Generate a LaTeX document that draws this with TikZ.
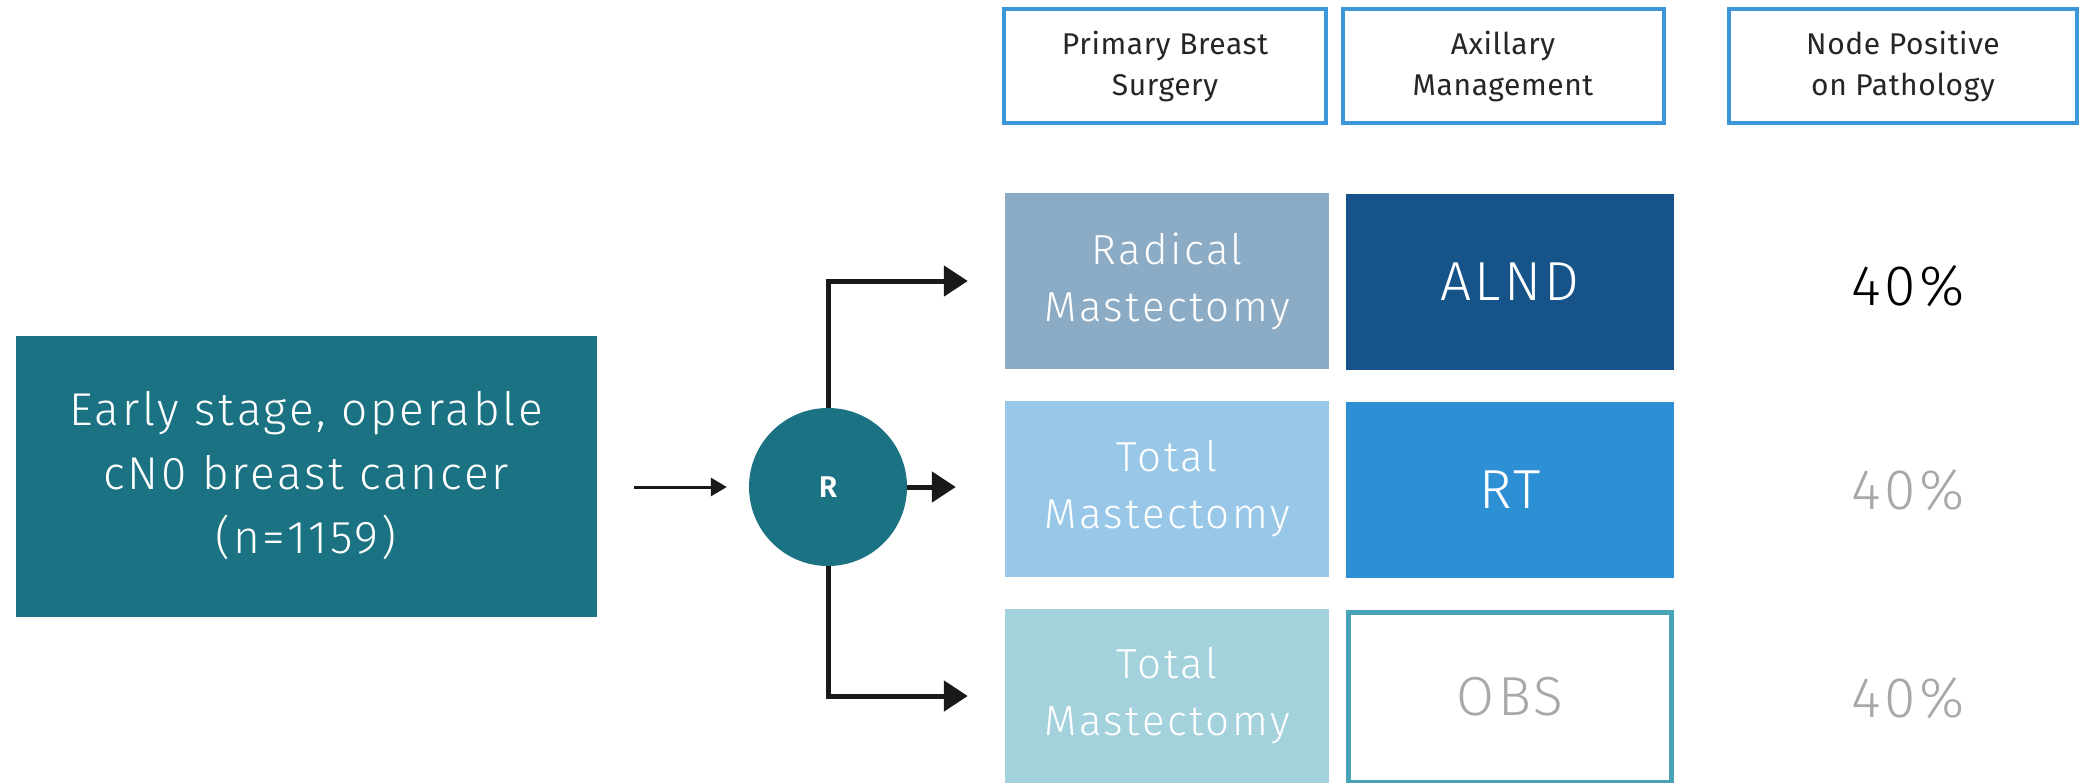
\documentclass[tikz,border=0pt]{standalone}
\usepackage{fontspec}
\setmainfont{Fira Sans}[UprightFont=* Light, BoldFont=* SemiBold, LetterSpace=6]
\newfontfamily\headfont{Fira Sans}[LetterSpace=2]
\usetikzlibrary{arrows.meta,positioning}

\definecolor{cohort}{HTML}{1B7282}
\definecolor{headblue}{HTML}{3B97DA}
\definecolor{radical}{HTML}{8CABC4}
\definecolor{alnd}{HTML}{155389}
\definecolor{totala}{HTML}{98C7E8}
\definecolor{rtblue}{HTML}{2E90D4}
\definecolor{totalb}{HTML}{A3D1DC}
\definecolor{obsline}{HTML}{48A3B7}
\definecolor{faded}{HTML}{A8A8A8}

\begin{document}
\begin{tikzpicture}[x=1pt,y=-1pt,
        every node/.style={align=center,inner sep=0pt},
        headbox/.style={draw=headblue,line width=4pt,fill=white,minimum height=114pt,
            font=\headfont\fontsize{30}{41}\selectfont,text=black!85},
        armbox/.style={minimum width=324pt,minimum height=176pt,text=white,
            font=\fontsize{42}{57}\selectfont},
        treatbox/.style={minimum width=328pt,minimum height=176pt,text=white,
            font=\fontsize{55}{60}\selectfont},
        pct/.style={font=\fontsize{57}{60}\selectfont},
        branch/.style={draw=black!90,line width=5pt,-{Triangle[length=24pt,width=30pt]}}]

    \useasboundingbox (0,0) rectangle (2088,782);

    % cohort and randomisation
    \node[fill=cohort,text=white,minimum width=581pt,minimum height=281pt,
        font=\fontsize{46}{64}\selectfont] (cohort) at (306,476)
        {Early stage, operable\\cN0 breast cancer\\(n=1159)};
    \node[circle,fill=cohort,minimum size=158pt,text=white,
        font=\bfseries\fontsize{30}{30}\selectfont] (rand) at (828,487) {R};

    % column headers
    \node[headbox,minimum width=322pt] (hsurg) at (1165,66) {Primary Breast\\Surgery};
    \node[headbox,minimum width=321pt] (haxil) at (1503,66) {Axillary\\Management};
    \node[headbox,minimum width=348pt] (hpath) at (1903,66) {Node Positive\\on Pathology};

    % arms
    \node[armbox,fill=radical] (rad) at (1167,281) {Radical\\Mastectomy};
    \node[treatbox,fill=alnd] (alnd) at (1510,282) {ALND};
    \node[pct,text=black] (p1) at (1908,286) {40\%};

    \node[armbox,fill=totala] (tot1) at (1167,489) {Total\\Mastectomy};
    \node[treatbox,fill=rtblue] (rt) at (1510,490) {RT};
    \node[pct,text=faded] (p2) at (1908,490) {40\%};

    \node[armbox,fill=totalb,minimum height=174pt] (tot2) at (1167,696) {Total\\Mastectomy};
    \node[treatbox,draw=obsline,line width=5pt,fill=white,text=faded,
        minimum width=323pt,minimum height=170pt] (obs) at (1510,697) {OBS};
    \node[pct,text=faded] (p3) at (1908,698) {40\%};

    % connectors
    \coordinate (cin) at ([xshift=37pt]cohort.east);
    \coordinate (cmid) at ([xshift=-49pt]tot1.west);
    \draw[line width=3pt,draw=black!90,-{Triangle[length=16pt,width=18pt]}]
        (cin |- rand.west) -- ([xshift=-22pt]rand.west);
    \draw[branch] (rand.north) |- ([xshift=-37pt]rad.west);
    \draw[branch] (rand.east) -- (cmid |- rand.east);
    \draw[branch] (rand.south) |- ([xshift=-37pt]tot2.west);
\end{tikzpicture}
\end{document}
